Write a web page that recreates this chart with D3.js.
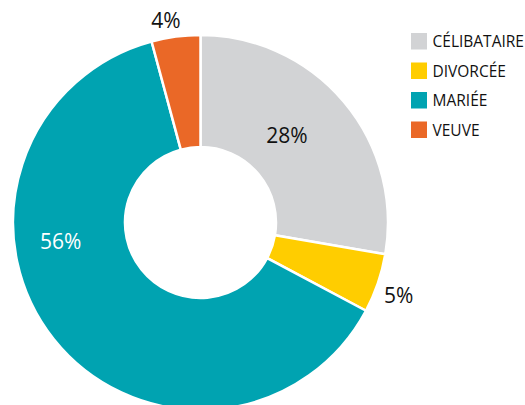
<!DOCTYPE html>
<html>
<head>
<meta charset="utf-8">
<script src="https://cdn.jsdelivr.net/npm/d3@7/dist/d3.min.js"></script>
<style>
  html, body { margin: 0; padding: 0; background: #fff; }
  svg { display: block; }
  text { font-family: "Open Sans", "DejaVu Sans", sans-serif; }
</style>
</head>
<body>
<div id="chart"></div>
<script>
// Donut chart — marital status

var categories = ['CÉLIBATAIRE', 'DIVORCÉE', 'MARIÉE', 'VEUVE'];
var sliceValues = [27.7, 5.1, 63.0, 4.2];
// the percentages printed on the chart
var labelTexts = ['28%', '5%', '56%', '4%'];
var colors = ['#D2D3D5', '#FFCD00', '#00A3B1', '#EA6827'];

var W = 525, H = 405;
var cx = 200.5, cy = 222.5;
var outerR = 187.5, innerR = 75.5;

var svg = d3.select('#chart').append('svg')
  .attr('width', W)
  .attr('height', H);

var pie = d3.pie().sort(null).value(function(d){ return d; });
var arcs = pie(sliceValues);

var arc = d3.arc().innerRadius(innerR).outerRadius(outerR);

var g = svg.append('g').attr('transform', 'translate(' + cx + ',' + cy + ')');

g.selectAll('path.slice')
  .data(arcs)
  .enter().append('path')
  .attr('class', 'slice')
  .attr('d', arc)
  .attr('fill', function(d, i){ return colors[i]; })
  .attr('stroke', '#fff')
  .attr('stroke-width', 2.5)
  .attr('stroke-linejoin', 'miter');

// label placement (polar, degrees clockwise from top) — layout only
var labelPolar = [[44.7, 123], [110.1, 211], [262.4, 141], [350.3, 205]];
var labelFill = ['#111', '#111', '#ffffff', '#111'];

g.selectAll('text.lbl')
  .data(arcs)
  .enter().append('text')
  .attr('class', 'lbl')
  .attr('transform', function(d, i){
    var a = labelPolar[i][0] * Math.PI / 180;
    var r = labelPolar[i][1];
    return 'translate(' + (Math.sin(a) * r) + ',' + (-Math.cos(a) * r) + ')';
  })
  .attr('text-anchor', 'middle')
  .attr('dy', '0.36em')
  .style('font-size', '21px')
  .attr('fill', function(d, i){ return labelFill[i]; })
  .text(function(d, i){ return labelTexts[i]; });

// legend
var legend = svg.append('g').attr('transform', 'translate(411,33)');
var rowH = 29.5;

var rows = legend.selectAll('g.row')
  .data(categories)
  .enter().append('g')
  .attr('class', 'row')
  .attr('transform', function(d, i){ return 'translate(0,' + (i * rowH) + ')'; });

rows.append('rect')
  .attr('width', 16)
  .attr('height', 16.5)
  .attr('fill', function(d, i){ return colors[i]; });

rows.append('text')
  .attr('x', 21.5)
  .attr('y', 8.5)
  .attr('dy', '0.36em')
  .style('font-size', '15.5px')
  .attr('fill', '#111')
  .text(function(d){ return d; });
</script>
</body>
</html>
